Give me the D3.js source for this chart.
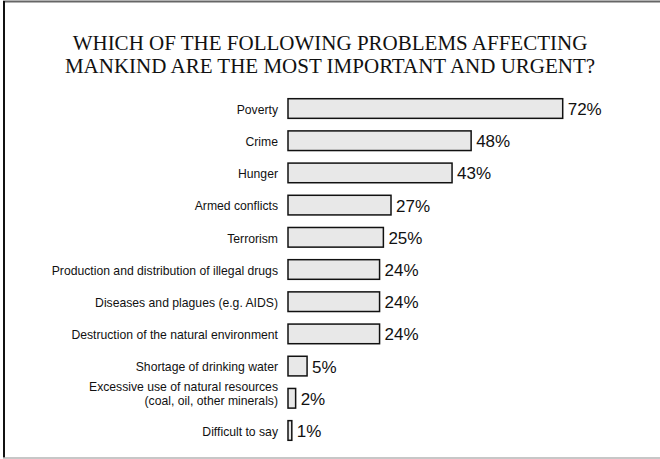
<!DOCTYPE html>
<html>
<head>
<meta charset="utf-8">
<script src="https://cdn.jsdelivr.net/npm/d3@7"></script>
<style>
body { margin: 0; background: #fff; }
</style>
</head>
<body>
<div id="main"></div>
<script>
var ctx = {
    w: 660,
    h: 459,
    BAR_FILL: "#e8e8e8",
};

// data
var titleLines = ["WHICH OF THE FOLLOWING PROBLEMS AFFECTING",
                  "MANKIND ARE THE MOST IMPORTANT AND URGENT?"];
var categories = ["Poverty", "Crime", "Hunger", "Armed conflicts", "Terrorism",
    "Production and distribution of illegal drugs", "Diseases and plagues (e.g. AIDS)",
    "Destruction of the natural environment", "Shortage of drinking water",
    "Excessive use of natural resources|(coal, oil, other minerals)", "Difficult to say"];
var values = [72, 48, 43, 27, 25, 24, 24, 24, 5, 2, 1];

var initScales = function(){
    ctx.xScale = d3.scaleLinear().domain([0, 72]).range([288, 562.7]);
    ctx.yScale = d3.scaleBand().domain(categories)
        .range([98.7, 440.3])
        .paddingInner(0.39)
        .paddingOuter(0);
};

var drawFrame = function(svg){
    // top, left and bottom edges of the picture frame
    svg.append("line")
        .attr("x1", 3).attr("y1", 1.5).attr("x2", ctx.w).attr("y2", 1.5)
        .style("stroke", "#666").style("stroke-width", 2);
    svg.append("line")
        .attr("x1", 4).attr("y1", 1).attr("x2", 4).attr("y2", 458)
        .style("stroke", "#111").style("stroke-width", 2);
    svg.append("line")
        .attr("x1", 3).attr("y1", 458).attr("x2", ctx.w).attr("y2", 458)
        .style("stroke", "#b4b4b4").style("stroke-width", 1.5);
};

var drawTitle = function(svg){
    svg.append("g").selectAll("text")
        .data(titleLines)
        .enter()
        .append("text")
        .attr("x", 330)
        .attr("y", function(d, i){ return 49.5 + i*23.4; })
        .style("text-anchor", "middle")
        .style("font-family", "'Liberation Serif', 'Times New Roman', serif")
        .style("font-size", "21px")
        .style("fill", "#111")
        .text(function(d){ return d; });
};

var drawBars = function(svg){
    var rows = categories.map(function(c, i){ return {cat: c, val: values[i]}; });
    var g = svg.append("g");
    // bars
    g.selectAll("rect")
        .data(rows)
        .enter()
        .append("rect")
        .attr("x", ctx.xScale(0))
        .attr("y", function(d){ return ctx.yScale(d.cat); })
        .attr("width", function(d){ return ctx.xScale(d.val) - ctx.xScale(0); })
        .attr("height", ctx.yScale.bandwidth())
        .style("fill", ctx.BAR_FILL)
        .style("stroke", "#111")
        .style("stroke-width", 1.5);
    // value labels
    g.selectAll("text.val")
        .data(rows)
        .enter()
        .append("text")
        .attr("class", "val")
        .attr("x", function(d){ return ctx.xScale(d.val) + 5; })
        .attr("y", function(d){ return ctx.yScale(d.cat) + ctx.yScale.bandwidth()/2 + 6.5; })
        .style("font-family", "'Liberation Sans', Arial, sans-serif")
        .style("font-size", "17px")
        .style("fill", "#111")
        .text(function(d){ return d.val + "%"; });
    // category labels, some on two lines
    var lab = g.selectAll("text.cat")
        .data(rows)
        .enter()
        .append("text")
        .attr("class", "cat")
        .attr("x", 278)
        .attr("y", function(d){
            var n = d.cat.split("|").length;
            return ctx.yScale(d.cat) + ctx.yScale.bandwidth()/2 + 5.3 - (n-1)*12.3;
        })
        .style("text-anchor", "end")
        .style("font-family", "'Liberation Sans', Arial, sans-serif")
        .style("font-size", "12.2px")
        .style("fill", "#111");
    lab.selectAll("tspan")
        .data(function(d){ return d.cat.split("|"); })
        .enter()
        .append("tspan")
        .attr("x", 278)
        .attr("dy", function(d, i){ return i == 0 ? 0 : 14; })
        .text(function(d){ return d; });
};

var createViz = function(){
    var svgEl = d3.select("#main").append("svg")
        .attr("width", ctx.w)
        .attr("height", ctx.h);
    initScales();
    drawFrame(svgEl);
    drawTitle(svgEl);
    drawBars(svgEl);
};

createViz();
</script>
</body>
</html>
